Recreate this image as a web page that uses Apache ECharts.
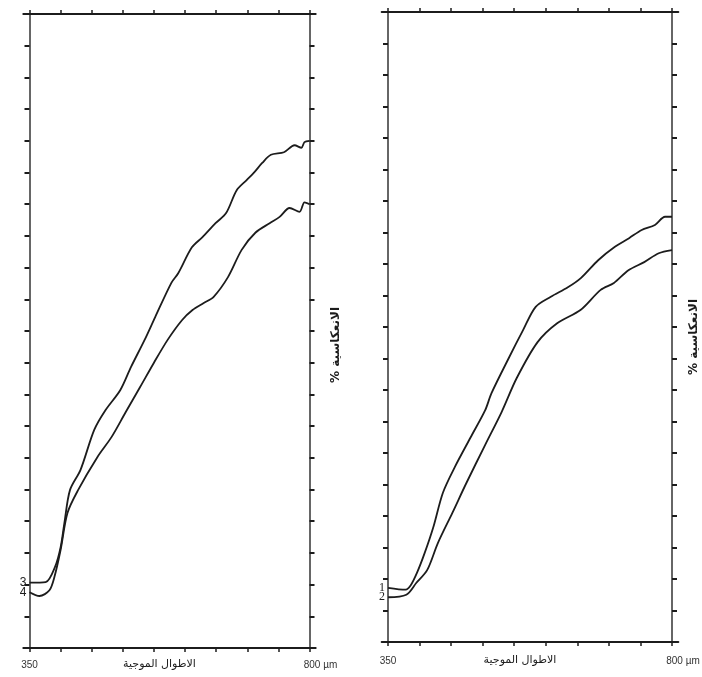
<!DOCTYPE html>
<html>
<head>
<meta charset="utf-8">
<script src="https://cdn.jsdelivr.net/npm/echarts@6.0.0/dist/echarts.min.js"></script>
<style>
  html, body { margin: 0; padding: 0; background: #fff; }
  #chart { width: 702px; height: 677px; }
</style>
</head>
<body>
<div id="chart"></div>
<script>
// wavelength ticks (nm) and reflectance ticks (%)
var xTicks = [350, 400, 450, 500, 550, 600, 650, 700, 750, 800];
var xLabels = [350, 800];
var yTicks = [5, 10, 15, 20, 25, 30, 35, 40, 45, 50, 55, 60, 65, 70, 75, 80, 85, 90, 95];

// left panel, curves 3 and 4
var wl3 = [350, 376, 391, 400, 406, 415, 432, 454, 472, 496, 513, 535, 552, 578, 589, 611, 628, 649, 666, 683, 699, 710, 724, 738, 759, 776, 787, 792, 800];
var r3  = [10.3, 10.4, 12.8, 15.9, 19.7, 24.9, 28.1, 34.4, 37.5, 40.7, 44.3, 48.6, 52.2, 57.6, 59.1, 63.2, 64.8, 67.0, 68.6, 72.2, 73.8, 74.9, 76.5, 77.8, 78.2, 79.3, 78.9, 79.8, 80.0];
var wl4 = [350, 366, 382, 390, 400, 411, 428, 459, 482, 504, 528, 550, 572, 595, 612, 630, 646, 669, 691, 713, 736, 752, 768, 784, 792, 800];
var r4  = [8.8, 8.2, 9.1, 11.2, 15.5, 21.3, 24.9, 30.1, 33.3, 37.1, 41.2, 45.0, 48.6, 51.7, 53.3, 54.4, 55.4, 58.5, 62.8, 65.5, 67.0, 68.0, 69.4, 68.8, 70.3, 70.0];

// right panel, curves 1 and 2
var wl1 = [350, 378, 386, 396, 408, 422, 437, 456, 481, 504, 514, 542, 564, 584, 608, 635, 656, 683, 709, 732, 752, 773, 789, 800];
var r1  = [8.6, 8.3, 9.0, 11.0, 14.1, 18.3, 23.7, 27.8, 32.5, 36.8, 39.5, 45.2, 49.5, 53.2, 54.8, 56.3, 57.8, 60.6, 62.7, 64.1, 65.4, 66.2, 67.5, 67.5];
var wl2 = [350, 379, 395, 412, 429, 452, 474, 504, 530, 554, 587, 618, 655, 687, 708, 731, 756, 779, 800];
var r2  = [7.1, 7.5, 9.4, 11.4, 15.7, 20.5, 25.2, 31.3, 36.5, 41.9, 47.6, 50.6, 52.7, 55.9, 57.0, 59.0, 60.3, 61.7, 62.2];

var ink = '#1c1c1c';
var xName = 'الاطوال الموجية';
var yName = '% الانعكاسية';

var myChart = echarts.init(document.getElementById('chart'));

function pts(w, r, tag, font) {
    return w.map(function (x, i) {
        if (i === 0) {
            return {
                value: [x, r[i]],
                label: { show: true, formatter: tag, position: 'left', distance: 3,
                         fontFamily: font, fontSize: 12, color: ink }
            };
        }
        return [x, r[i]];
    });
}

function bottomAxis(g, labelMargin, nameGap) {
    return {
        gridIndex: g, type: 'value', position: 'bottom', min: 340, max: 810,
        axisLine: { onZero: false, lineStyle: { color: ink, width: 2 } },
        axisTick: { show: true, customValues: xTicks, length: 4, inside: false, lineStyle: { color: ink, width: 1.5 } },
        axisLabel: {
            show: true, customValues: xLabels, margin: labelMargin,
            color: '#333', fontSize: 10, fontFamily: 'Liberation Sans',
            formatter: function (v) { return v === 800 ? '{u|800 µm}' : String(v); },
            rich: { u: { padding: [0, 0, 0, 22], fontSize: 10, color: '#333', fontFamily: 'Liberation Sans' } }
        },
        splitLine: { show: false },
        name: xName, nameLocation: 'middle', nameGap: nameGap, nameMoveOverlap: false,
        nameTextStyle: { fontFamily: 'DejaVu Sans', fontSize: 11, color: ink, padding: [0, 20, 0, 0] }
    };
}

function topAxis(g) {
    return {
        gridIndex: g, type: 'value', position: 'top', min: 340, max: 810,
        axisLine: { onZero: false, lineStyle: { color: ink, width: 2 } },
        axisTick: { show: true, customValues: xTicks, length: 4, inside: false, lineStyle: { color: ink, width: 1.5 } },
        axisLabel: { show: false },
        splitLine: { show: false }
    };
}

function sideAxis(g, pos, off, nameGap, namePad) {
    var a = {
        gridIndex: g, type: 'value', position: pos, offset: off, min: 0, max: 100,
        axisLine: { show: true, onZero: false, lineStyle: { color: '#333', width: 1.5 } },
        axisTick: { show: true, customValues: yTicks, length: 5, inside: false, lineStyle: { color: ink, width: 2 } },
        axisLabel: { show: false },
        splitLine: { show: false }
    };
    if (nameGap) {
        a.name = yName;
        a.nameLocation = 'middle';
        a.nameRotate = 90;
        a.nameGap = nameGap;
        a.nameMoveOverlap = false;
        a.nameTextStyle = { fontFamily: 'DejaVu Sans', fontSize: 12, fontWeight: 'bold', color: ink, padding: [0, namePad, 0, 0] };
    }
    return a;
}

function curve(xi, yi, w, r, tag, font) {
    return {
        type: 'line', xAxisIndex: xi, yAxisIndex: yi,
        data: pts(w, r, tag, font),
        showSymbol: true, symbolSize: 0, smooth: 0.3,
        lineStyle: { color: ink, width: 1.8 }, itemStyle: { color: ink },
        silent: true
    };
}

var option = {
    backgroundColor: '#fff',
    animation: false,
    grid: [
        { left: 23.3, width: 292.4, top: 14, bottom: 29, outerBoundsMode: 'none' },
        { left: 381.7, width: 296.6, top: 12, bottom: 35, outerBoundsMode: 'none' }
    ],
    xAxis: [
        bottomAxis(0, 12, 11),
        topAxis(0),
        bottomAxis(1, 14, 13),
        topAxis(1)
    ],
    yAxis: [
        sideAxis(0, 'left', -6.2, 0),
        sideAxis(0, 'right', -6.2, 20, 28),
        sideAxis(1, 'left', -6.3, 0),
        sideAxis(1, 'right', -6.3, 16, 20)
    ],
    series: [
        curve(0, 0, wl3, r3, '3', 'Liberation Sans'),
        curve(0, 0, wl4, r4, '4', 'Liberation Sans'),
        curve(2, 2, wl1, r1, '1', 'Liberation Serif'),
        curve(2, 2, wl2, r2, '2', 'Liberation Serif')
    ]
};

myChart.setOption(option);
</script>
</body>
</html>
